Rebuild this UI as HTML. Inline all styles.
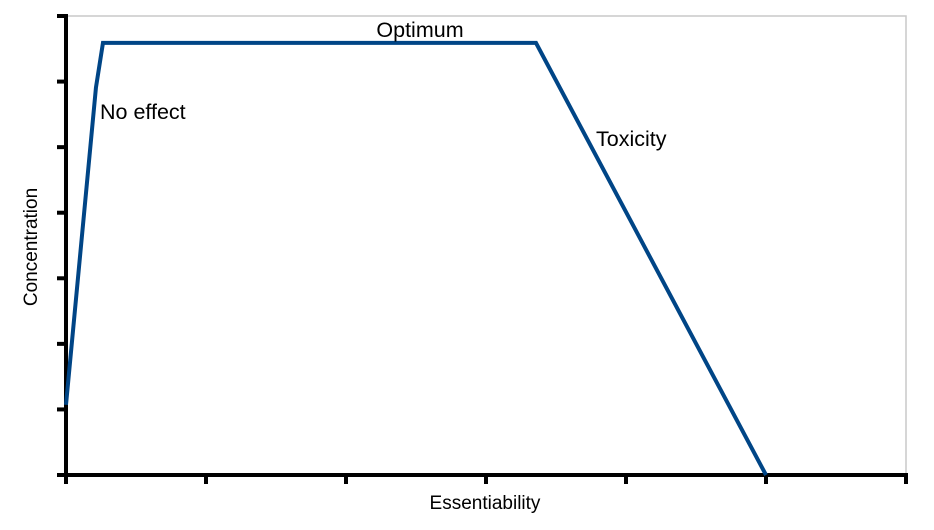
<!DOCTYPE html>
<html><head><meta charset="utf-8"><style>body{margin:0;background:#fff}svg{display:block;font-family:"Liberation Sans",sans-serif}</style></head>
<body>
<svg id="chart" width="934" height="530">
<rect x="66" y="16" width="840" height="459" fill="none" stroke="#c8c8c8" stroke-width="1.5"/>
<g id="ticks"></g>
<line x1="66" y1="14" x2="66" y2="477" stroke="#000" stroke-width="4"/>
<line x1="64" y1="475" x2="908" y2="475" stroke="#000" stroke-width="4"/>
<polyline id="series" fill="none" stroke="#004586" stroke-width="4" stroke-linejoin="miter"/>
<text x="420" y="37" font-size="21.5" text-anchor="middle">Optimum</text>
<text x="100" y="119" font-size="21.5">No effect</text>
<text x="596" y="146" font-size="21.5">Toxicity</text>
<text x="485" y="509" font-size="19" text-anchor="middle">Essentiability</text>
<text x="37" y="247" font-size="19" text-anchor="middle" transform="rotate(-90 37 247)">Concentration</text>
</svg>
<script>
const xValues=[0,0.214,0.264,3.357,5];
const yValues=[1.07,5.91,6.59,6.59,0];
const xTicks=[0,1,2,3,4,5,6];
const yTicks=[0,1,2,3,4,5,6,7];
const X0=66,XS=140,Y0=475,YS=65.57;
const sx=v=>X0+v*XS, sy=v=>Y0-v*YS;
const ns="http://www.w3.org/2000/svg",g=document.getElementById('ticks');
xTicks.forEach(t=>{const l=document.createElementNS(ns,'line');
l.setAttribute('x1',sx(t));l.setAttribute('x2',sx(t));l.setAttribute('y1',475);l.setAttribute('y2',484);
l.setAttribute('stroke','#000');l.setAttribute('stroke-width','4');


g.appendChild(l);});
yTicks.forEach(t=>{const l=document.createElementNS(ns,'line');
l.setAttribute('y1',sy(t));l.setAttribute('y2',sy(t));l.setAttribute('x1',57);l.setAttribute('x2',66);
l.setAttribute('stroke','#000');l.setAttribute('stroke-width','4');


g.appendChild(l);});
document.getElementById('series').setAttribute('points',xValues.map((x,i)=>sx(x)+','+sy(yValues[i])).join(' '));
</script>
</body></html>
